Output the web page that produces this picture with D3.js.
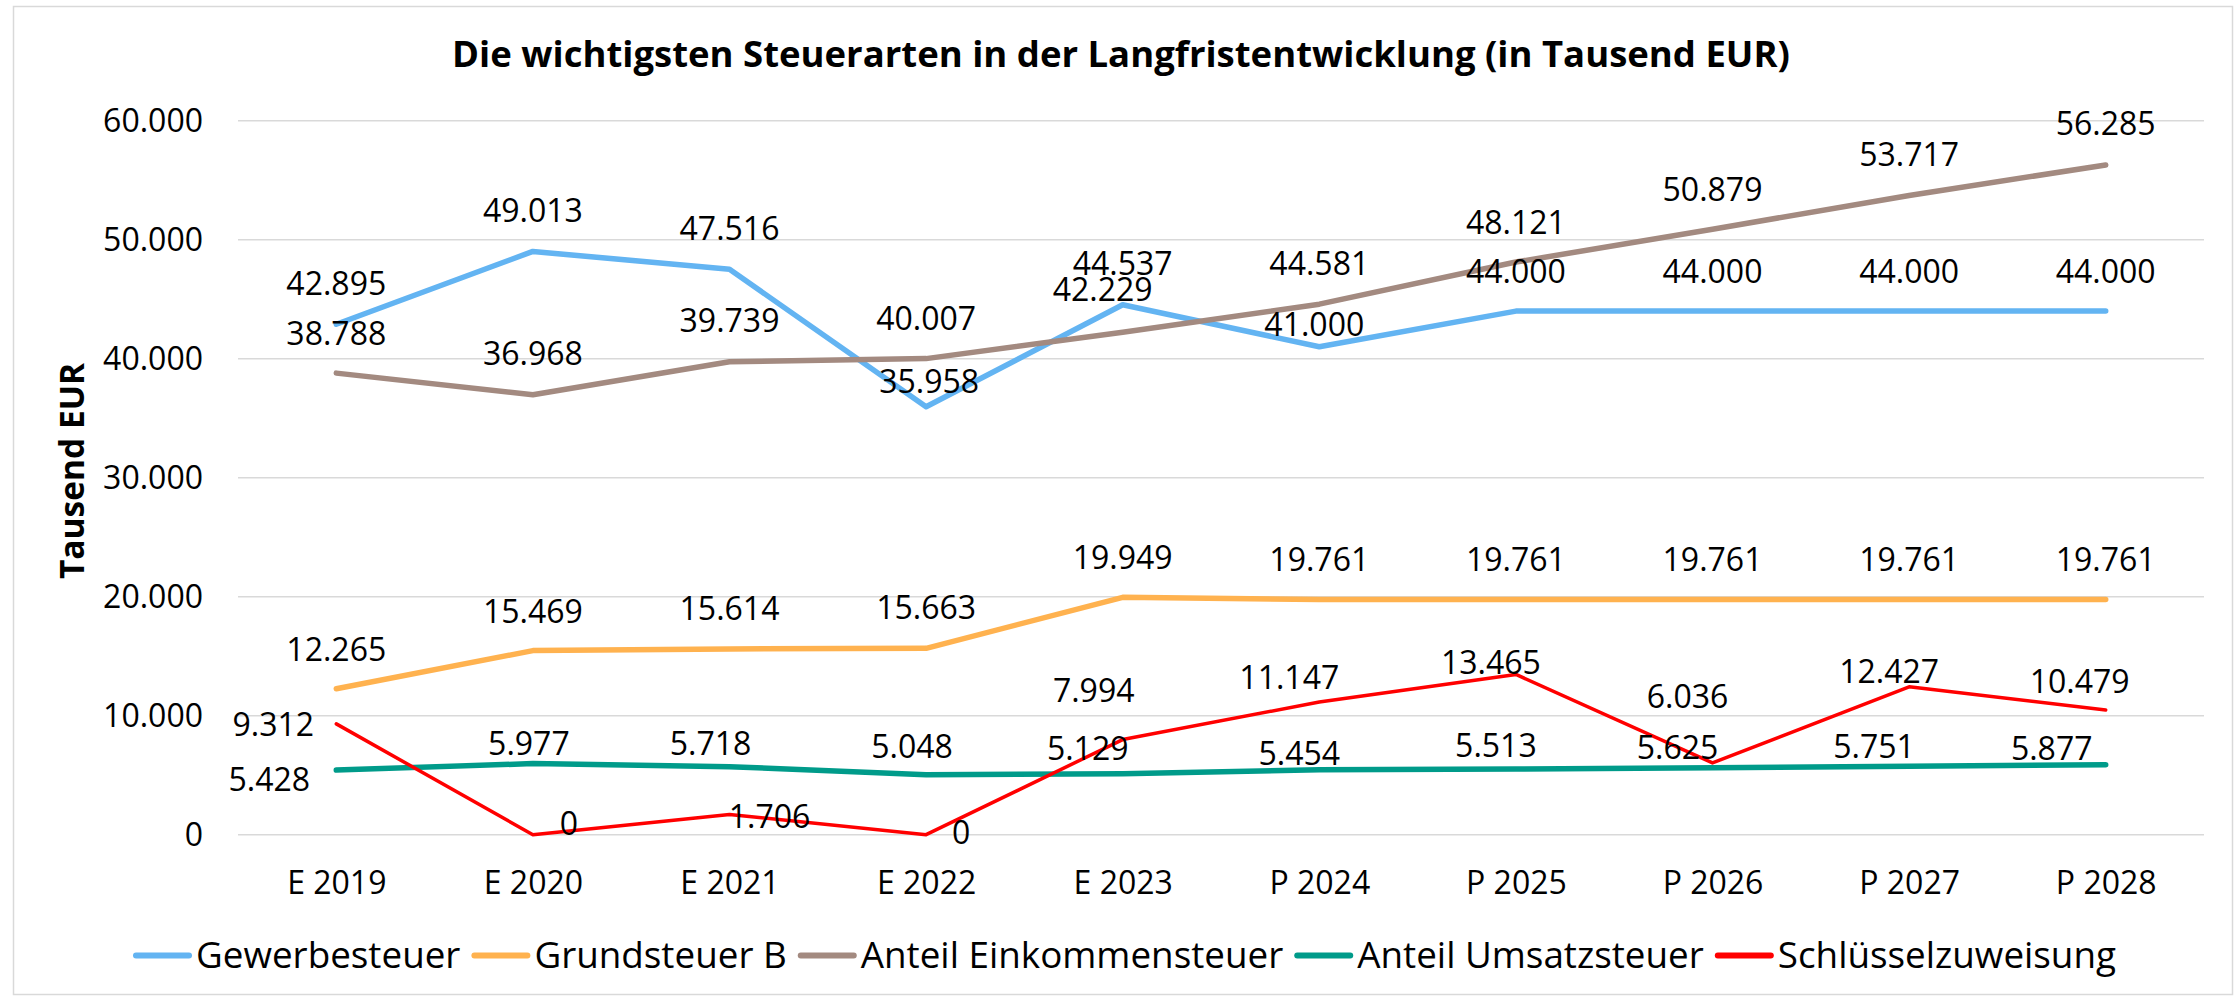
<!DOCTYPE html>
<html>
<head>
<meta charset="utf-8">
<script src="https://cdn.jsdelivr.net/npm/d3@7"></script>
<style>
  html, body { margin: 0; padding: 0; background: #fff; }
  svg { display: block; }
  text { font-family: "Open Sans", "Liberation Sans", sans-serif; fill: #000; }
</style>
</head>
<body>
<svg id="chart" width="2236" height="1000"></svg>
<script>
// ---------- DATA ----------
const categories = ["E 2019", "E 2020", "E 2021", "E 2022", "E 2023", "P 2024", "P 2025", "P 2026", "P 2027", "P 2028"];
const seriesNames = ["Gewerbesteuer", "Grundsteuer B", "Anteil Einkommensteuer", "Anteil Umsatzsteuer", "Schlüsselzuweisung"];
const gewerbesteuer = [42895, 49013, 47516, 35958, 44537, 41000, 44000, 44000, 44000, 44000];
const grundsteuerB = [12265, 15469, 15614, 15663, 19949, 19761, 19761, 19761, 19761, 19761];
const einkommensteuer = [38788, 36968, 39739, 40007, 42229, 44581, 48121, 50879, 53717, 56285];
const umsatzsteuer = [5428, 5977, 5718, 5048, 5129, 5454, 5513, 5625, 5751, 5877];
const schluesselzuweisung = [9312, 0, 1706, 0, 7994, 11147, 13465, 6036, 12427, 10479];
const yTicks = [0, 10000, 20000, 30000, 40000, 50000, 60000];
const titleText = "Die wichtigsten Steuerarten in der Langfristentwicklung (in Tausend EUR)";
const yAxisTitle = "Tausend EUR";

// ---------- STYLE / LAYOUT ----------
const colors = ["#63B4F2", "#FFB24F", "#A38A80", "#009B8A", "#FF0000"];
const widths = [5.5, 5.5, 5.5, 5.5, 3.5];
// label nudges [dx, dy] relative to the point (text-anchor middle, baseline)
const labelNudge = [
  [[0,-29],[0,-29],[0,-29],[3,-14],[0,-30],[-5,-11],[0,-28],[0,-28],[0,-28],[0,-28]],
  [[0,-28],[0,-28],[0,-29],[0,-29],[0,-28],[0,-29],[0,-29],[0,-29],[0,-29],[0,-29]],
  [[0,-28],[0,-30],[0,-30],[0,-29],[-20,-31],[0,-29],[0,-28],[0,-28],[0,-29],[0,-30]],
  [[-67,21],[-4,-9],[-19,-12],[-14,-17],[-35,-14],[-20,-5],[-20,-12],[-35,-8.5],[-35,-8],[-54,-5]],
  [[-63,12],[36,0],[40,14],[35,9],[-29,-38],[-30,-13],[-25,0],[-25,-55],[-20,-4],[-26,-17]]
];

const allSeries = [gewerbesteuer, grundsteuerB, einkommensteuer, umsatzsteuer, schluesselzuweisung];

const de = d3.formatLocale({decimal: ",", thousands: ".", grouping: [3], currency: ["", " €"]});
const fmt = de.format(",d");

const svg = d3.select("#chart");

// chart border
svg.append("rect")
  .attr("x", 13.5).attr("y", 6.5).attr("width", 2219).attr("height", 988)
  .attr("fill", "#fff").attr("stroke", "#D9D9D9").attr("stroke-width", 1.5);

const plotLeft = 238, plotRight = 2204;
const x = d3.scalePoint().domain(categories).range([plotLeft, plotRight]).padding(0.5);
const y = d3.scaleLinear().domain([0, 60000]).range([834.7, 120.7]);

// gridlines
svg.append("g").selectAll("line").data(yTicks).join("line")
  .attr("x1", plotLeft).attr("x2", plotRight)
  .attr("y1", d => y(d)).attr("y2", d => y(d))
  .attr("stroke", "#D9D9D9").attr("stroke-width", 1.5);

// y axis (labels only)
const yAxis = d3.axisLeft(y).tickValues(yTicks).tickFormat(fmt).tickSize(0).tickPadding(0);
const gy = svg.append("g").attr("transform", "translate(203,0)").call(yAxis);
gy.select(".domain").remove();
gy.selectAll("text").attr("font-size", 32).attr("font-family", "Open Sans").attr("fill", "#000").attr("dy", "0.34em");

// x axis (labels only)
const xAxis = d3.axisBottom(x).tickSize(0).tickPadding(0);
const gx = svg.append("g").attr("transform", "translate(0,894)").call(xAxis);
gx.select(".domain").remove();
gx.selectAll("text").attr("font-size", 32).attr("font-family", "Open Sans").attr("fill", "#000").attr("dy", 0);

// lines
const line = d3.line().x((d, i) => x(categories[i])).y(d => y(d));
svg.append("g").selectAll("path").data(allSeries).join("path")
  .attr("d", d => line(d))
  .attr("fill", "none")
  .attr("stroke", (d, i) => colors[i])
  .attr("stroke-width", (d, i) => widths[i])
  .attr("stroke-linejoin", "round")
  .attr("stroke-linecap", "round");

// data labels
allSeries.forEach((vals, s) => {
  svg.append("g").selectAll("text").data(vals).join("text")
    .attr("x", (d, i) => x(categories[i]) + labelNudge[s][i][0])
    .attr("y", (d, i) => y(d) + labelNudge[s][i][1])
    .attr("text-anchor", "middle")
    .attr("font-size", 32)
    .text(d => fmt(d));
});

// title
svg.append("text")
  .attr("x", 1121).attr("y", 67)
  .attr("text-anchor", "middle")
  .attr("font-size", 36.5).attr("font-weight", "bold")
  .text(titleText);

// y-axis title
svg.append("text")
  .attr("transform", "translate(84,471) rotate(-90)")
  .attr("text-anchor", "middle")
  .attr("font-size", 33.5).attr("font-weight", "bold")
  .text(yAxisTitle);

// legend
const legend = svg.append("g");
const items = legend.selectAll("g").data(seriesNames).join("g");
items.append("line")
  .attr("x1", 0).attr("x2", 53).attr("y1", -12.5).attr("y2", -12.5)
  .attr("stroke", (d, i) => colors[i]).attr("stroke-width", 6).attr("stroke-linecap", "round");
items.append("text")
  .attr("x", 60).attr("y", 0)
  .attr("font-size", 36.8)
  .text(d => d);
let cursor = 0;
const offsets = [];
items.each(function() {
  const w = d3.select(this).select("text").node().getComputedTextLength();
  offsets.push(cursor);
  cursor += 60 + w + 14;
});
cursor -= 14;
const legendStart = 1126 - cursor / 2;
items.attr("transform", (d, i) => `translate(${legendStart + offsets[i]},968)`);
</script>
</body>
</html>
